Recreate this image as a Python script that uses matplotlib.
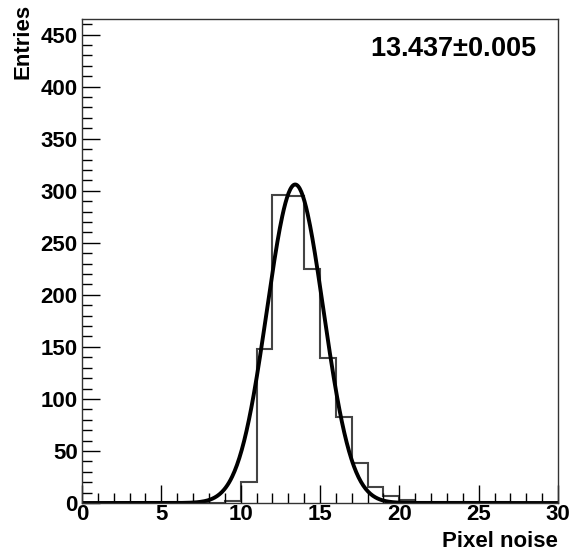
import numpy as np
import matplotlib
matplotlib.use("Agg")
from matplotlib import pyplot as plt
from matplotlib.ticker import MultipleLocator

# histogram contents, 1 unit bins from 0 to 30
bin_edges = np.arange(0, 31, 1)
counts = [0, 0, 0, 0, 0, 0, 0, 0, 0, 2,
          20, 148, 296, 295, 225, 139, 83, 38, 15, 7,
          3, 1, 1, 1, 1, 1, 1, 0, 0, 0]

# gaussian fit parameters
fit_amp = 306
fit_mean = 13.437
fit_sigma = 1.78
fit_label = "13.437$\\pm$0.005"

plt.rcParams['font.family'] = ['Liberation Sans', 'DejaVu Sans']
plt.rcParams['font.weight'] = 'bold'
plt.rcParams['mathtext.fontset'] = 'custom'
plt.rcParams['mathtext.rm'] = 'Liberation Sans:bold'

fig = plt.figure(figsize=(5.72, 5.56), dpi=100)
ax = fig.add_axes([82 / 572, 1 - 503 / 556, 476 / 572, 484 / 556])

ax.stairs(counts, bin_edges, color='#444444', linewidth=1.5)

xs = np.linspace(0, 30, 600)
ax.plot(xs, fit_amp * np.exp(-0.5 * ((xs - fit_mean) / fit_sigma) ** 2),
        color='black', linewidth=2.8)

ax.set_xlim(0, 30)
ax.set_ylim(0, 465)
ax.xaxis.set_major_locator(MultipleLocator(5))
ax.xaxis.set_minor_locator(MultipleLocator(1))
ax.yaxis.set_major_locator(MultipleLocator(50))
ax.yaxis.set_minor_locator(MultipleLocator(10))
ax.tick_params(which='both', direction='in', top=False, right=False,
               labelsize=16, width=1)
ax.tick_params(which='major', length=13)
ax.tick_params(which='minor', length=7)
ax.tick_params(axis='x', pad=1)
ax.tick_params(axis='y', pad=3)
for lab in ax.get_xticklabels() + ax.get_yticklabels():
    lab.set_fontweight('bold')
for s in ax.spines.values():
    s.set_color('#333333')
    s.set_linewidth(1)

fig.text(558 / 572, 1 - 552 / 556, "Pixel noise", ha='right', va='bottom',
         fontsize=16, fontweight='bold')
fig.text(12 / 572, 1 - 4 / 556, "Entries", ha='left', va='top', rotation=90,
         fontsize=16, fontweight='bold')
ax.text(0.955, 0.965, fit_label, transform=ax.transAxes, ha='right', va='top',
        fontsize=19.5, fontweight='bold')

fig.savefig("out.png", dpi=100)
